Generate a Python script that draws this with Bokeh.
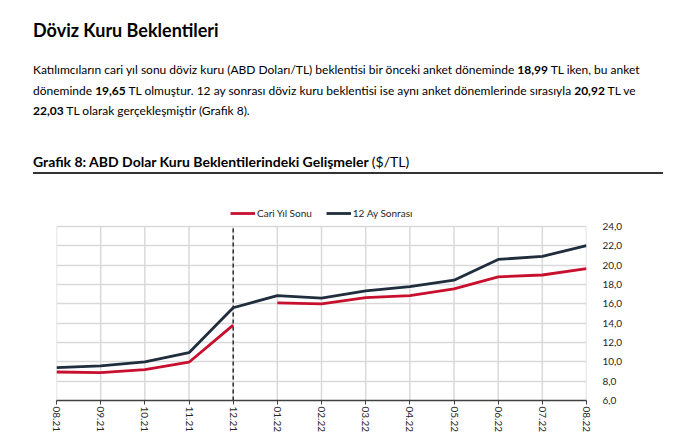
from bokeh.plotting import figure
from bokeh.layouts import column
from bokeh.models import (Div, Range1d, FixedTicker, Legend, LegendItem,
                          CustomJSTickFormatter)
from bokeh.embed import file_html
from bokeh.resources import INLINE

# ---- data ----
months = ["08.21", "09.21", "10.21", "11.21", "12.21", "01.22", "02.22",
          "03.22", "04.22", "05.22", "06.22", "07.22", "08.22"]
cari_yil_sonu = [8.95, 8.88, 9.20, 9.96, 13.80, 16.10, 16.00,
                 16.65, 16.85, 17.55, 18.80, 18.99, 19.65]
ay12_sonrasi = [9.40, 9.58, 10.00, 10.95, 15.60, 16.85, 16.60,
                17.35, 17.78, 18.45, 20.60, 20.92, 22.03]
break_after = 4          # Cari Yıl Sonu series restarts at 01.22
divider_month = "12.21"  # dashed vertical line
y_ticks = [6, 8, 10, 12, 14, 16, 18, 20, 22, 24]

FONT = "Lato"
RED = "#C8102E"
DARK = "#1F2D3D"
GRID = "#d9d9d9"
HEADROOM = 2.7   # extra y-space above 24,0 that holds the legend

xs = list(range(len(months)))
y_lo, y_hi = y_ticks[0], y_ticks[-1]

header_html = f"""
<div style="position:relative;width:694px;height:175px;font-family:{FONT},sans-serif;color:#000;">
  <div style="position:absolute;left:33px;top:19px;font-size:18px;line-height:22px;font-weight:bold;white-space:nowrap;">Döviz Kuru Beklentileri</div>
  <div style="position:absolute;left:33px;top:60px;font-size:12px;line-height:20.5px;white-space:nowrap;">
  Katılımcıların cari yıl sonu döviz kuru (ABD Doları/TL) beklentisi bir önceki anket döneminde <b>18,99</b> TL iken, bu anket<br>
  döneminde <b>19,65</b> TL olmuştur. 12 ay sonrası döviz kuru beklentisi ise aynı anket dönemlerinde sırasıyla <b>20,92</b> TL ve<br>
  <b>22,03</b> TL olarak gerçekleşmiştir (Grafik 8).
  </div>
  <div style="position:absolute;left:33px;top:153px;font-size:14px;line-height:17px;font-weight:bold;white-space:nowrap;">Grafik 8: ABD Dolar Kuru Beklentilerindeki Gelişmeler <span style="font-weight:normal;">($/TL)</span></div>
  <div style="position:absolute;left:33px;top:172px;width:630px;height:2px;background:#333;"></div>
</div>
"""
header = Div(text=header_html, width=694, height=175, margin=0)

p = figure(width=694, height=273, output_backend="svg", toolbar_location=None,
           x_range=Range1d(0, len(months) - 1), y_range=Range1d(y_lo, y_hi + HEADROOM),
           y_axis_location="right", min_border_left=56, min_border_right=108,
           min_border_top=25, min_border_bottom=48, sizing_mode="fixed")
p.title = None
p.outline_line_color = None
p.background_fill_color = "white"
p.border_fill_color = "white"

# grid: horizontal via ygrid, vertical as segments limited to the value range
p.xgrid.visible = False
p.ygrid.ticker = FixedTicker(ticks=y_ticks)
p.ygrid.grid_line_color = GRID
p.ygrid.grid_line_width = 1.5
p.segment(x0=xs, y0=[y_lo] * len(xs), x1=xs, y1=[y_hi] * len(xs),
          line_color=GRID, line_width=1.5)

# x axis
p.xaxis.ticker = FixedTicker(ticks=xs)
p.xaxis.major_label_overrides = {i: m for i, m in enumerate(months)}
p.xaxis.major_label_orientation = "vertical"
p.xaxis.axis_line_color = "#404040"
p.xaxis.axis_line_width = 1.5
p.xaxis.major_tick_line_color = "#404040"
p.xaxis.major_tick_out = 4
p.xaxis.major_tick_in = 0
p.xaxis.minor_tick_line_color = None
p.xaxis.major_label_standoff = 2
p.xaxis.major_label_text_font = FONT
p.xaxis.major_label_text_font_size = "10px"
p.xaxis.major_label_text_color = "#262626"

# y axis (right)
p.yaxis.ticker = FixedTicker(ticks=y_ticks)
p.yaxis.formatter = CustomJSTickFormatter(code="return tick.toFixed(1).replace('.', ',');")
p.yaxis.axis_line_color = None
p.yaxis.major_tick_line_color = None
p.yaxis.minor_tick_line_color = None
p.yaxis.major_label_standoff = 10
p.yaxis.major_label_text_font = FONT
p.yaxis.major_label_text_font_size = "10px"
p.yaxis.major_label_text_color = "#262626"

# divider (dashed vertical line at 12.21)
dx = months.index(divider_month)
p.segment(x0=[dx], y0=[y_lo], x1=[dx], y1=[y_hi], line_color="black",
          line_width=1.2, line_dash="4 3")

# series
r1 = p.line(xs[:break_after + 1], cari_yil_sonu[:break_after + 1], line_color=RED, line_width=2.8)
p.line(xs[break_after + 1:], cari_yil_sonu[break_after + 1:], line_color=RED, line_width=2.8)
r2 = p.line(xs, ay12_sonrasi, line_color=DARK, line_width=2.8)

legend = Legend(items=[LegendItem(label="Cari Yıl Sonu", renderers=[r1]),
                       LegendItem(label="12 Ay Sonrası", renderers=[r2])],
                orientation="horizontal", location=(174, 181))
legend.label_text_font = FONT
legend.label_text_font_size = "10px"
legend.label_text_color = "#262626"
legend.label_height = 12
legend.glyph_width = 25
legend.glyph_height = 12
legend.label_standoff = 2
legend.spacing = 14
legend.padding = 0
legend.margin = 0
legend.border_line_color = None
legend.background_fill_alpha = 0
p.add_layout(legend)

layout = column(header, p, spacing=0)
open("out.html", "w").write(file_html(layout, INLINE))
